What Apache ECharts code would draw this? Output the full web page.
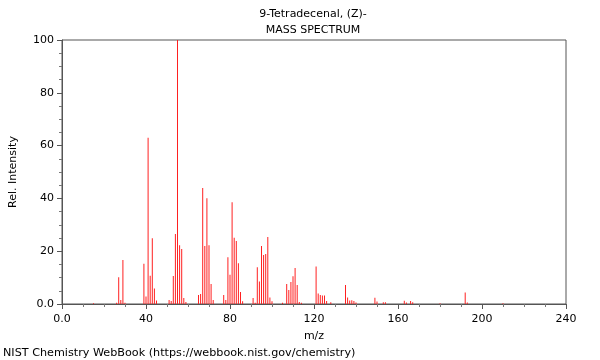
<!DOCTYPE html>
<html>
<head>
<meta charset="utf-8">
<script src="https://cdn.jsdelivr.net/npm/echarts@6/dist/echarts.min.js"></script>
<style>
html,body{margin:0;padding:0;background:#fff;}
#c{width:600px;height:360px;}
</style>
</head>
<body>
<div id="c"></div>
<script>
const titleLines = ["9-Tetradecenal, (Z)-", "MASS SPECTRUM"];
const footer = "NIST Chemistry WebBook (https://webbook.nist.gov/chemistry)";
const xTicks = [0, 40, 80, 120, 160, 200, 240];
const mz = [15, 26, 27, 28, 29, 30, 39, 40, 41, 42, 43, 44, 45, 51, 52, 53, 54, 55, 56, 57, 58, 59,
  65, 66, 67, 68, 69, 70, 71, 72, 77, 78, 79, 80, 81, 82, 83, 84, 85, 86,
  91, 92, 93, 94, 95, 96, 97, 98, 99, 100, 105, 107, 108, 109, 110, 111, 112, 113, 114,
  121, 122, 123, 124, 125, 126, 128, 135, 136, 137, 138, 139, 140, 149, 150, 153, 154,
  163, 164, 166, 167, 180, 192, 193, 210];
const intensity = [0.3, 0.5, 10.1, 1.5, 16.7, 0.5, 15.2, 2.8, 63.0, 10.7, 24.9, 5.9, 1.3, 1.5, 1.1, 10.6, 26.5, 100, 22.3, 20.8, 2.3, 0.8,
  3.4, 3.8, 43.9, 22.0, 40.1, 22.3, 7.6, 1.5, 3.4, 1.5, 17.7, 11.1, 38.5, 25.1, 23.9, 15.4, 4.5, 1.0,
  2.3, 0.5, 13.9, 8.5, 22.0, 18.6, 18.9, 25.4, 2.5, 1.0, 0.5, 7.6, 5.3, 8.3, 10.5, 13.6, 7.2, 0.8, 0.5,
  14.2, 4.0, 3.4, 3.2, 3.2, 1.1, 0.7, 7.2, 2.5, 1.3, 1.4, 1.1, 0.6, 2.4, 0.9, 0.7, 0.7,
  1.2, 0.6, 1.1, 0.7, 0.3, 4.4, 0.6, 0.3];

const chart = echarts.init(document.getElementById('c'), null, {renderer: 'canvas'});
const fmt = v => (v === 0 ? '0.0' : String(v));
const font = 'DejaVu Sans';
chart.setOption({
  animation: false,
  backgroundColor: '#fff',
  graphic: [
    {type: 'text', x: 313, y: 14, style: {text: titleLines[0], fontFamily: font, fontSize: 11, fill: '#000', align: 'center', verticalAlign: 'middle'}},
    {type: 'text', x: 313, y: 30, style: {text: titleLines[1], fontFamily: font, fontSize: 11, fill: '#000', align: 'center', verticalAlign: 'middle'}},
    {type: 'text', x: 3, y: 353, style: {text: footer, fontFamily: font, fontSize: 11.2, fill: '#000', align: 'left', verticalAlign: 'middle'}}
  ],
  grid: {left: 62, right: 34, top: 40, bottom: 56, show: true, borderColor: '#555', borderWidth: 1, backgroundColor: 'transparent'},
  xAxis: {
    type: 'value', min: xTicks[0], max: xTicks[xTicks.length - 1], interval: 40,
    name: 'm/z', nameLocation: 'middle', nameGap: 27,
    nameTextStyle: {fontFamily: font, fontSize: 11, color: '#000'},
    axisLine: {show: true, lineStyle: {color: '#555', width: 1}},
    axisTick: {show: true, inside: false, length: 5, lineStyle: {color: '#555'}},
    minorTick: {show: true, splitNumber: 4, length: 3, lineStyle: {color: '#777'}},
    axisLabel: {formatter: fmt, fontFamily: font, fontSize: 11, color: '#000', margin: 10},
    splitLine: {show: false}
  },
  yAxis: {
    type: 'value', min: 0, max: 100, interval: 20,
    name: 'Rel. Intensity', nameLocation: 'middle', nameGap: 43, nameRotate: 90,
    nameTextStyle: {fontFamily: font, fontSize: 11, color: '#000'},
    axisLine: {show: true, lineStyle: {color: '#555', width: 1}},
    axisTick: {show: true, inside: false, length: 5, lineStyle: {color: '#555'}},
    minorTick: {show: true, splitNumber: 4, length: 3, lineStyle: {color: '#777'}},
    axisLabel: {formatter: fmt, fontFamily: font, fontSize: 11, color: '#000', margin: 8},
    splitLine: {show: false}
  },
  series: [{
    type: 'bar',
    data: mz.map((m, i) => [m, intensity[i]]),
    barWidth: 1,
    itemStyle: {color: '#ff2020'},
    silent: true
  }]
});
</script>
</body>
</html>
